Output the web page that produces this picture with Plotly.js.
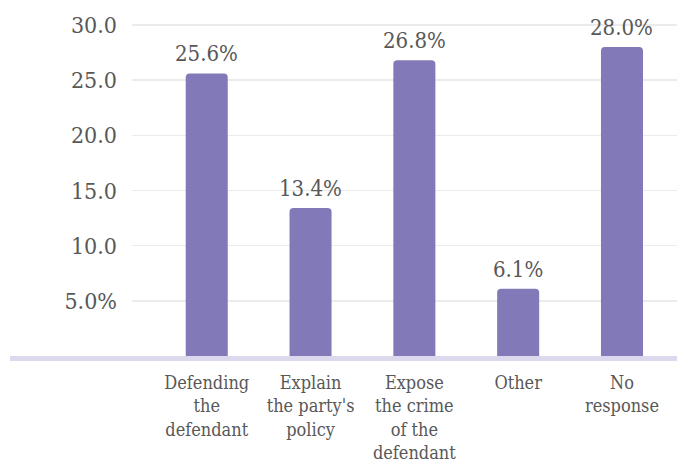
<!DOCTYPE html>
<html>
<head>
<meta charset="utf-8">
<script src="https://cdn.plot.ly/plotly-3.0.1.min.js"></script>
<style>html,body{margin:0;padding:0;background:#fff;}#chart{width:677px;height:462px;}</style>
</head>
<body>
<div id="chart"></div>
<script>
var categories = ["Defending<br>the<br>defendant", "Explain<br>the party's<br>policy", "Expose<br>the crime<br>of the<br>defendant", "Other", "No<br>response"];
var values = [25.6, 13.4, 26.8, 6.1, 28.0];
var valueLabels = ["25.6%", "13.4%", "26.8%", "6.1%", "28.0%"];
var yTickVals = [5, 10, 15, 20, 25, 30];
var yTickText = ["5.0%", "10.0", "15.0", "20.0", "25.0", "30.0"];

var FONT = "DejaVu Serif Condensed";
var TXT = "#585858";

var trace = {
  type: "bar",
  x: categories,
  y: values,
  marker: {color: "#8279b8", cornerradius: 4},
  width: 0.405,
  hoverinfo: "none"
};

var annotations = categories.map(function(c, i) {
  return {
    x: c, y: values[i], xref: "x", yref: "y",
    text: valueLabels[i], showarrow: false,
    yanchor: "bottom", yshift: 5,
    font: {family: FONT, size: 22, color: TXT}
  };
});

var layout = {
  width: 677, height: 462,
  margin: {l: 132, r: 0, t: 15, b: 106},
  paper_bgcolor: "#ffffff",
  plot_bgcolor: "#ffffff",
  showlegend: false,
  font: {family: FONT, color: TXT},
  xaxis: {
    type: "category",
    range: [-0.72, 4.53],
    showgrid: false, zeroline: false, showline: false,
    ticks: "", ticklabelstandoff: 14,
    tickfont: {family: FONT, size: 18, color: TXT},
    fixedrange: true
  },
  yaxis: {
    range: [0, 30.9],
    tickvals: yTickVals, ticktext: yTickText,
    showgrid: true, gridcolor: "#ebebeb", gridwidth: 1.5,
    zeroline: false, showline: false, ticks: "",
    ticklabelstandoff: 14,
    tickfont: {family: FONT, size: 23, color: TXT},
    fixedrange: true
  },
  shapes: [{
    type: "rect", xref: "paper", yref: "paper",
    x0: -122/545, x1: 1, y0: -5/341, y1: 0,
    fillcolor: "#dcd8ee", line: {width: 0}, layer: "below"
  }],
  annotations: annotations
};

Plotly.newPlot("chart", [trace], layout, {displayModeBar: false, staticPlot: true});
</script>
</body>
</html>
